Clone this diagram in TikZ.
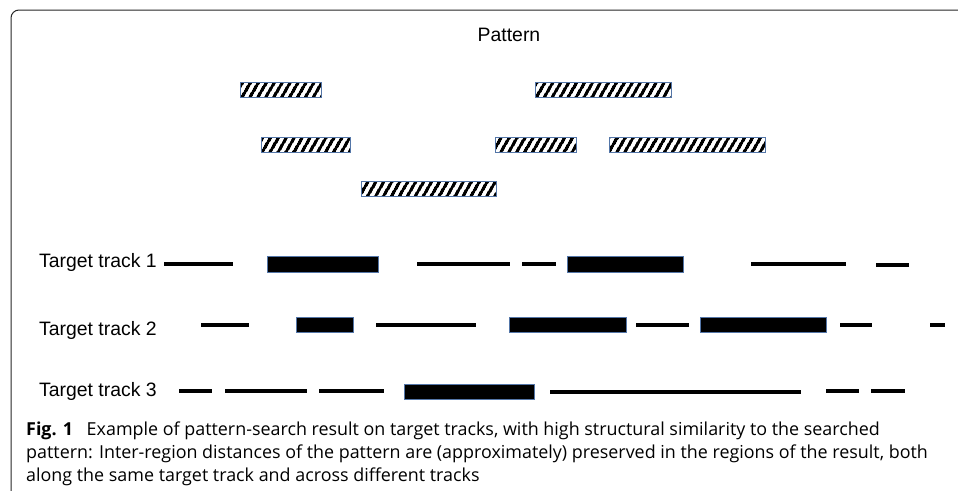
\documentclass[tikz,border=0pt]{standalone}
\usepackage{fontspec}
\setmainfont{Liberation Sans}
\newfontfamily\capfont{Open Sans}
\usetikzlibrary{patterns.meta}
\definecolor{boxedge}{HTML}{5476A8}
\tikzset{
	hatchbox/.style={draw=boxedge, line width=0.9pt, fill=white,
		pattern={Lines[angle=60, distance=7.4pt, line width=3.6pt]}},
	hitbox/.style={draw=boxedge, line width=0.9pt, fill=black},
	gapline/.style={line width=3.6pt, draw=black},
	tracklabel/.style={anchor=base west, inner sep=0pt, font=\fontsize{19.4}{23}\selectfont}
}

\begin{document}
\begin{tikzpicture}[x=1pt, y=-1pt]
		%%%%% START %%%%%
		\useasboundingbox (0,0) rectangle (958,490);
		
		% frame
		\draw[line width=1pt, color=black!85, rounded corners=8] (11,491) -- (11,10) -- (960,10);
		
		% pattern
		\node[tracklabel, anchor=base] (pat) at (509,41) {Pattern};
		\fill[white] (240,82) rectangle (321,97);
		\draw[hatchbox] (240,82) rectangle (321,97);
		\fill[white] (535,82) rectangle (671,97);
		\draw[hatchbox] (535,82) rectangle (671,97);
		
		\fill[white] (261,137) rectangle (350,152);
		\draw[hatchbox] (261,137) rectangle (350,152);
		\fill[white] (495,137) rectangle (576,152);
		\draw[hatchbox] (495,137) rectangle (576,152);
		\fill[white] (609,137) rectangle (765,152);
		\draw[hatchbox] (609,137) rectangle (765,152);
		
		\fill[white] (361,181) rectangle (496,196);
		\draw[hatchbox] (361,181) rectangle (496,196);
		
		% target track 1
		\node[tracklabel] (tt1) at (39,267) {Target track 1};
		\draw[gapline] (164,264) -- (233,264);
		\draw[hitbox] (267,256) rectangle (378,272);
		\draw[gapline] (417,264) -- (510,264);
		\draw[gapline] (522,264) -- (556,264);
		\draw[hitbox] (567,256) rectangle (683,272);
		\draw[gapline] (751,264) -- (846,264);
		\draw[gapline] (876,265) -- (909,265);
		
		% target track 2
		\node[tracklabel] (tt2) at (39,335) {Target track 2};
		\draw[gapline] (201,325) -- (249,325);
		\draw[hitbox] (296,317) rectangle (353,332);
		\draw[gapline] (376,325) -- (476,325);
		\draw[hitbox] (509,317) rectangle (626,332);
		\draw[gapline] (636,325) -- (689,325);
		\draw[hitbox] (700,317) rectangle (826,332);
		\draw[gapline] (840,325) -- (872,325);
		\draw[gapline] (930,325) -- (945,325);
		
		% target track 3
		\node[tracklabel] (tt3) at (39,396) {Target track 3};
		\draw[gapline] (179,391) -- (212,391);
		\draw[gapline] (225,391) -- (307,391);
		\draw[gapline] (319,391) -- (384,391);
		\draw[hitbox] (404,384) rectangle (534,399);
		\draw[gapline] (550,392) -- (801,392);
		\draw[gapline] (826,391) -- (859,391);
		\draw[gapline] (871,391) -- (905,391);
		
		% caption
		\node[anchor=north west, inner sep=0pt, align=left,
			font=\capfont\fontsize{17.9}{22.6}\selectfont] (cap) at (26,422)
			{\textbf{Fig. 1}\hspace{0.5em} Example of pattern-search result on target tracks, with high structural similarity to the searched\\
			pattern: Inter-region distances of the pattern are (approximately) preserved in the regions of the result, both\\
			along the same target track and across different tracks};
		
		%%%%% END %%%%%
	\end{tikzpicture}
\end{document}
